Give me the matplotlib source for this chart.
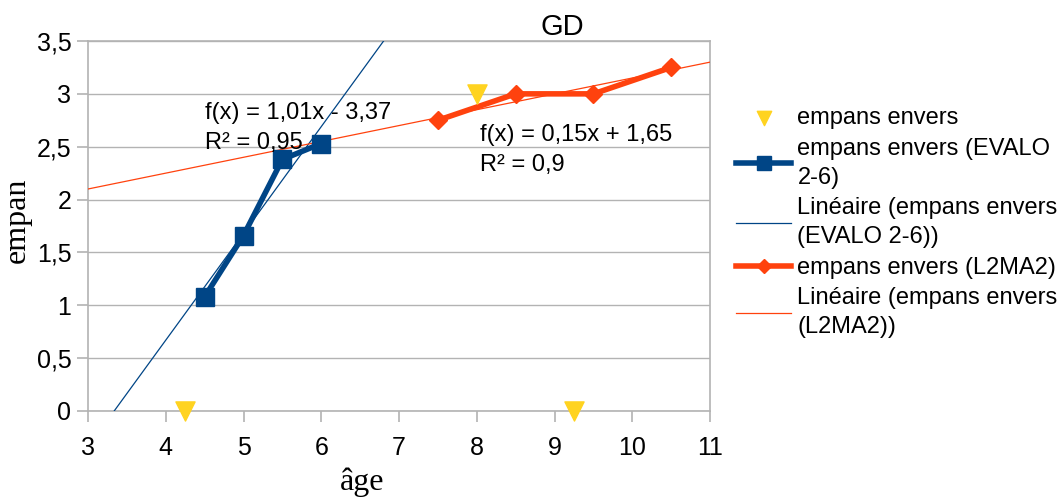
import matplotlib
matplotlib.use("Agg")
import matplotlib.pyplot as plt
import numpy as np

# ---- data ----
tri_x = [4.25, 8.0, 9.25]
tri_y = [0.0, 3.0, 0.0]

evalo_x = [4.5, 5.0, 5.5, 6.0]
evalo_y = [1.08, 1.66, 2.38, 2.53]
evalo_slope, evalo_icpt = 1.01, -3.37

l2ma2_x = [7.5, 8.5, 9.5, 10.5]
l2ma2_y = [2.75, 3.0, 3.0, 3.25]
l2ma2_slope, l2ma2_icpt = 0.15, 1.65

xticks = [3, 4, 5, 6, 7, 8, 9, 10, 11]
yticks = [0, 0.5, 1, 1.5, 2, 2.5, 3, 3.5]
ytick_labels = ["0", "0,5", "1", "1,5", "2", "2,5", "3", "3,5"]

title = "GD"
xlabel = "âge"
ylabel = "empan"
lbl_tri = "empans envers"
lbl_evalo = "empans envers (EVALO\n2-6)"
lbl_evalo_fit = "Linéaire (empans envers\n(EVALO 2-6))"
lbl_l2 = "empans envers (L2MA2)"
lbl_l2_fit = "Linéaire (empans envers\n(L2MA2))"
eq_evalo = "f(x) = 1,01x - 3,37\nR² = 0,95"
eq_l2 = "f(x) = 0,15x + 1,65\nR² = 0,9"

plt.rcParams['font.family'] = ['Liberation Sans', 'DejaVu Sans']

fig = plt.figure(figsize=(10.59, 4.99), dpi=100)
ax = fig.add_axes([88/1059, 1-411/499, (710-88)/1059, (411-41)/499])

blue = "#004586"
orange = "#ff420e"
yellow = "#ffd320"
grid = "#b3b3b3"

ax.set_xlim(3, 11)
ax.set_ylim(0, 3.5)

# trend lines
xx = np.linspace(3, 11, 400)
ax.plot(xx, evalo_slope*xx + evalo_icpt, color=blue, lw=0.9, label=lbl_evalo_fit, zorder=3)
ax.plot(xx, l2ma2_slope*xx + l2ma2_icpt, color=orange, lw=0.9, label=lbl_l2_fit, zorder=3)

ax.plot(evalo_x, evalo_y, color=blue, lw=4, marker='s', ms=13, label=lbl_evalo, zorder=4)
ax.plot(l2ma2_x, l2ma2_y, color=orange, lw=4, marker='D', ms=9, label=lbl_l2, zorder=4)
ax.scatter(tri_x, tri_y, marker='v', s=190, color=yellow, label=lbl_tri, zorder=5, clip_on=False)

ax.text(4.505, 2.68, eq_evalo, fontsize=17, va='center', ha='left', linespacing=1.45, zorder=6)
ax.text(8.04, 2.47, eq_l2, fontsize=17, va='center', ha='left', linespacing=1.45, zorder=6)

ax.set_xticks(xticks)
ax.set_xticklabels([str(v) for v in xticks], fontsize=18)
ax.set_yticks(yticks)
ax.set_yticklabels(ytick_labels, fontsize=18)
ax.yaxis.grid(True, color=grid, lw=1)
ax.set_axisbelow(True)
for s in ax.spines.values():
    s.set_color(grid)
    s.set_linewidth(1.2)
ax.tick_params(axis='x', colors=grid, labelcolor='black', length=8, width=1.2, pad=10)
ax.tick_params(axis='y', colors=grid, labelcolor='black', length=8, width=1.2, pad=4)

ax.set_title(title, fontsize=21, x=0.762, pad=3)
fig.text(362/1059, 1-482/499, xlabel, fontsize=23, family='Liberation Serif',
         ha='center', va='center')
fig.text(17/1059, 1-220/499, ylabel, fontsize=23, family='Liberation Serif',
         ha='center', va='center', rotation=90)

handles, labels = ax.get_legend_handles_labels()
order = [lbl_tri, lbl_evalo, lbl_evalo_fit, lbl_l2, lbl_l2_fit]
hmap = dict(zip(labels, handles))
leg = fig.legend([hmap[k] for k in order], order, loc='upper left',
                 bbox_to_anchor=(736/1059, 1-107/499), frameon=False,
                 fontsize=17, handlelength=2.35, handletextpad=0.25,
                 labelspacing=0.36, markerscale=0.75, borderpad=0,
                 borderaxespad=0)
for t in leg.get_texts():
    t.set_linespacing(1.42)

fig.savefig("out.png", dpi=100)
